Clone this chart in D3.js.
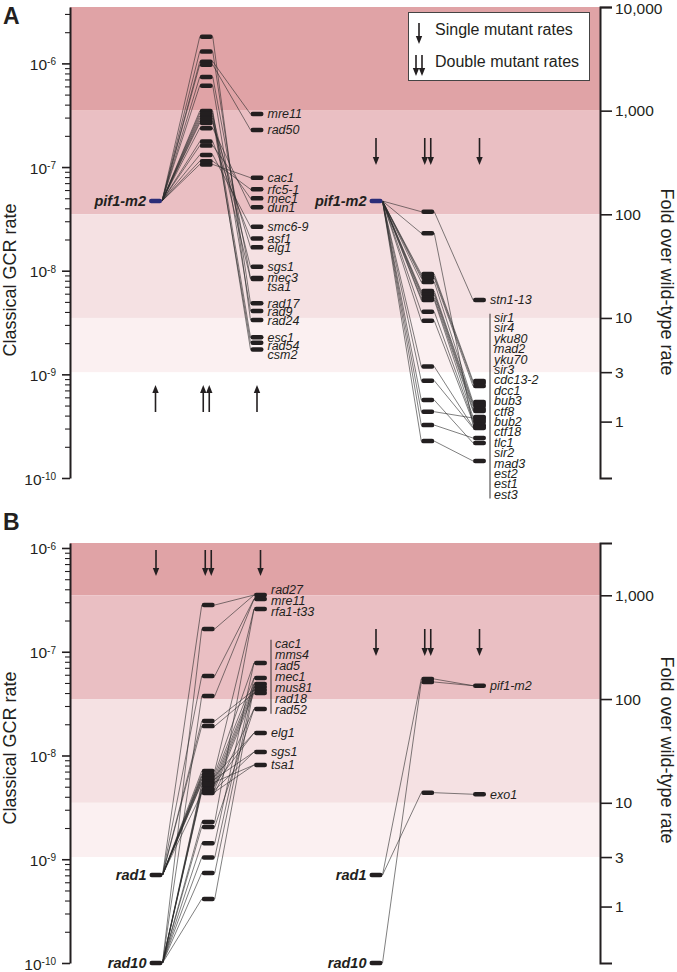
<!DOCTYPE html>
<html><head><meta charset="utf-8">
<script src="https://cdn.jsdelivr.net/npm/d3@7"></script>
<style>
body{margin:0;background:#fff;}
svg{display:block;font-family:"Liberation Sans",Arial,Helvetica,sans-serif;}
</style></head><body>
<svg id="chart" width="677" height="972"></svg>
<script>
// ================= DATA =================
const wildTypeRate = 3.5e-10;
const foldBands = [1000, 100, 10, 3];
const foldTicksA = [10000, 1000, 100, 10, 3, 1];
const foldTicksB = [1000, 100, 10, 3, 1];
const rateExponents = [-6, -7, -8, -9, -10];

// Panel A, left group (pif1-m2 x gene)
const aLeftParents = ["pif1-m2"];
const aLeftParentRates = [4.7e-8];
const aLeftGenes = ["mre11","rad50","cac1","rfc5-1","mec1","dun1","smc6-9","asf1","elg1","sgs1","mec3","tsa1","rad17","rad9","rad24","esc1","rad54","csm2"];
const aLeftSingle = [3.25e-7,2.28e-7,7.89e-8,6.10e-8,4.99e-8,4.09e-8,2.66e-8,2.05e-8,1.68e-8,1.09e-8,8.50e-9,8.32e-9,4.85e-9,4.08e-9,3.34e-9,2.28e-9,2.02e-9,1.74e-9];
const aLeftDouble = [1.04e-6,9.7e-7,1.06e-7,1.14e-7,1.61e-7,2.37e-7,1.31e-7,1.76e-7,2.66e-7,3.11e-7,7.4e-7,2.78e-7,1.30e-6,6.1e-7,1.81e-6,3.47e-7,2.94e-7,3.29e-7];

// Panel A, right group (pif1-m2 x gene)
const aRightParents = ["pif1-m2"];
const aRightParentRates = [4.7e-8];
const aRightGenes = ["stn1-13","sir1","sir4","yku80","mad2","yku70","sir3","cdc13-2","dcc1","bub3","ctf8","bub2","ctf18","tlc1","sir2","mad3","est2","est1","est3"];
const aRightBracket = ["sir1","sir4","yku80","mad2","yku70","sir3","cdc13-2","dcc1","bub3","ctf8","bub2","ctf18","tlc1","sir2","mad3","est2","est1","est3"];
const aRightSingle = [5.22e-9,8.63e-10,8.25e-10,7.72e-10,5.41e-10,5.18e-10,4.95e-10,4.63e-10,4.43e-10,3.88e-10,3.79e-10,3.63e-10,3.47e-10,3.24e-10,3.10e-10,3.04e-10,2.43e-10,2.18e-10,1.46e-10];
const aRightDouble = [3.71e-8,9.29e-9,8.89e-9,8.50e-9,7.78e-9,6.37e-9,6.09e-9,5.83e-9,5.45e-9,5.22e-9,4.36e-10,4.02e-9,3.29e-9,2.30e-8,1.19e-9,8.69e-10,3.24e-10,5.65e-10,2.27e-10];

// Panel B, left group (rad1 / rad10 x gene)
const bLeftParents = ["rad1","rad10"];
const bLeftParentRates = [7.05e-10, 1.0e-10];
const bLeftGenes = ["rad27","mre11","rfa1-t33","cac1","mms4","rad5","mec1","mus81","rad18","rad52","elg1","sgs1","tsa1"];
const bLeftBracket = ["cac1","mms4","rad5","mec1","mus81","rad18","rad52"];
const bLeftSingle = [3.52e-7,3.22e-7,2.58e-7,7.79e-8,5.58e-8,4.89e-8,4.57e-8,4.28e-8,4.00e-8,2.81e-8,1.65e-8,1.08e-8,8.10e-9];
const bLeftDoubleRad1 = [2.82e-7,5.84e-8,7.09e-9,6.63e-9,6.21e-9,5.81e-9,5.43e-9,2.15e-8,1.92e-8,4.35e-9,6.34e-9,5.94e-9,5.55e-9];
const bLeftDoubleRad10 = [1.66e-7,3.75e-8,2.29e-9,1.43e-9,1.04e-9,7.37e-10,4.14e-10,5.08e-9,4.75e-9,2.05e-9,5.31e-9,4.65e-9,4.45e-9];

// Panel B, right group (rad1 / rad10 x gene)
const bRightParents = ["rad1","rad10"];
const bRightParentRates = [7.05e-10, 1.0e-10];
const bRightGenes = ["pif1-m2","exo1"];
const bRightSingle = [4.71e-8, 4.23e-9];
const bRightDoubleRad1 = [5.46e-8, 4.38e-9];
const bRightDoubleRad10 = [5.11e-8, null];

// ================= DRAWING =================
const svg = d3.select("#chart");
const plotX0 = 70, plotX1 = 600;
const bandColors = ["#e0a3a6","#eabfc3","#f5e1e3","#fbf0f1"];
const ink = "#231f20";
const BW = 13, BH = 4.5;

function drawPanel(cfg) {
  const g = svg.append("g");
  const y = d3.scaleLog().domain(cfg.domain).range(cfg.range);
  const fold = d3.scaleLog().domain(cfg.domain.map(d => d / wildTypeRate)).range(cfg.range);
  const edges = [cfg.domain[0] / wildTypeRate, ...foldBands];
  g.selectAll("rect.band").data(foldBands).join("rect").attr("class","band")
    .attr("x", plotX0).attr("width", plotX1 - plotX0)
    .attr("y", (d,i) => fold(edges[i]))
    .attr("height", (d,i) => fold(edges[i+1]) - fold(edges[i]))
    .attr("fill", (d,i) => bandColors[i]);

  // left axis
  const majors = rateExponents.map(e => Math.pow(10, e));
  const minors = [];
  rateExponents.forEach(e => { for (let m = 2; m <= 9; m++) { const v = m * Math.pow(10, e); if (v < cfg.domain[0]) minors.push(v); } });
  const isMajor = d => Math.abs(Math.log10(d) - Math.round(Math.log10(d))) < 1e-6;
  const ax = g.append("g").attr("transform", `translate(${plotX0},0)`)
    .call(d3.axisLeft(y).tickValues([...majors, ...minors]).tickSizeOuter(0).tickSizeInner(5).tickFormat(() => ""));
  ax.select(".domain").attr("stroke", ink).attr("stroke-width", 2);
  ax.selectAll(".tick line").attr("stroke", ink).attr("stroke-width", 1.1)
    .filter(d => isMajor(d)).attr("x2", -8).attr("stroke-width", 1.6);
  ax.selectAll(".tick").filter(d => isMajor(d)).each(function(d) {
    const t = d3.select(this).append("text").attr("x", -14).attr("y", 6)
      .attr("text-anchor", "end").attr("fill", ink).attr("font-size", 15.5).attr("font-family", "Liberation Sans, Arial, sans-serif");
    t.append("tspan").text("10");
    t.append("tspan").attr("dy", -4.5).attr("font-size", 10).text(String(Math.round(Math.log10(d))));
  });

  // right axis
  const rx = g.append("g").attr("transform", `translate(${plotX1},0)`)
    .call(d3.axisRight(fold).tickValues(cfg.foldTicks).tickSizeOuter(0).tickSize(12).tickPadding(3).tickFormat(d3.format(",")));
  rx.select(".domain").attr("stroke", ink).attr("stroke-width", 2);
  rx.selectAll(".tick line").attr("stroke", ink).attr("stroke-width", 1.6);
  rx.selectAll(".tick text").attr("font-size", 15.5).attr("fill", ink).attr("font-family", "Liberation Sans, Arial, sans-serif")
    .attr("y", d => fold(d) < 12 ? 1.5 : 0);

  // titles
  g.append("text").attr("transform", `translate(16,${cfg.leftTitleY}) rotate(-90)`).attr("text-anchor","middle")
    .attr("font-size", 18).attr("fill", ink).text("Classical GCR rate");
  g.append("text").attr("transform", `translate(661,${cfg.rightTitleY}) rotate(90)`).attr("text-anchor","middle")
    .attr("font-size", 18).attr("fill", ink).text("Fold over wild-type rate");
  g.append("text").attr("x", 3).attr("y", cfg.letterY).attr("font-size", 23).attr("font-weight","bold")
    .attr("fill", ink).text(cfg.letter);
  return { g, y };
}

function dodge(items, spacing, mode) {
  items.sort((a,b) => a.y - b.y);
  items.forEach(d => d.ly = d.y);
  if (mode === "down") {
    for (let i = 1; i < items.length; i++) items[i].ly = Math.max(items[i].ly, items[i-1].ly + spacing);
  } else {
    for (let it = 0; it < 300; it++) for (let i = 1; i < items.length; i++) {
      const gap = items[i].ly - items[i-1].ly;
      if (gap < spacing) { const p = (spacing - gap) / 2; items[i].ly += p; items[i-1].ly -= p; }
    }
  }
  return items;
}

function arrow(g, x, y1, y2) {
  const dir = Math.sign(y2 - y1), hl = 8, hw = 3.2;
  g.append("line").attr("x1", x).attr("x2", x).attr("y1", y1).attr("y2", y2 - dir * hl * 0.7)
    .attr("stroke", ink).attr("stroke-width", 1.6);
  g.append("path").attr("d", `M${x-hw},${y2-dir*hl}L${x+hw},${y2-dir*hl}L${x},${y2}Z`).attr("fill", ink);
}

function drawGroup(P, cfg) {
  const { g, y } = P;
  const x = d3.scalePoint().domain(["parent","double","single"]).range(cfg.xRange);
  const gg = g.append("g");
  const links = [], dbl = [];
  cfg.parents.forEach((p, pi) => {
    cfg.genes.forEach((gene, i) => {
      const d = cfg.doubles[pi][i];
      if (d == null) return;
      dbl.push(d);
      links.push([x("parent") + BW/2, y(cfg.parentRates[pi]), x("double") - BW/2, y(d)]);
      links.push([x("double") + BW/2, y(d), x("single") - BW/2, y(cfg.singles[i])]);
    });
  });
  gg.selectAll("line.link").data(links).join("line").attr("class","link")
    .attr("x1", d => d[0]).attr("y1", d => d[1]).attr("x2", d => d[2]).attr("y2", d => d[3])
    .attr("stroke", "#2a2a2a").attr("stroke-width", 0.6);
  const bar = (sel, col, color) => sel.attr("x", x(col) - BW/2).attr("width", BW).attr("height", BH)
    .attr("y", d => y(d) - BH/2).attr("rx", 2.2).attr("fill", color);
  gg.selectAll("rect.d").data(dbl).join("rect").attr("class","d").call(bar, "double", ink);
  gg.selectAll("rect.s").data(cfg.singles).join("rect").attr("class","s").call(bar, "single", ink);
  gg.selectAll("rect.p").data(cfg.parentRates).join("rect").attr("class","p").call(bar, "parent", cfg.parentColor);
  // parent labels
  gg.selectAll("text.p").data(cfg.parents).join("text").attr("class","p")
    .attr("x", x("parent") - BW/2 - 3).attr("y", (d,i) => y(cfg.parentRates[i])).attr("dy","0.35em")
    .attr("text-anchor","end").attr("font-size", 14.5).attr("font-weight","bold").attr("font-style","italic")
    .attr("fill", ink).text(d => d);
  // free labels
  const bracketSet = new Set(cfg.bracket || []);
  const free = dodge(cfg.genes.map((n,i) => ({ n, y: y(cfg.singles[i]) })).filter(d => !bracketSet.has(d.n)), cfg.spacing, cfg.mode);
  const lx = x("single") + BW/2 + 4;
  gg.selectAll("text.f").data(free).join("text").attr("class","f")
    .attr("x", lx).attr("y", d => d.ly).attr("dy","0.35em").attr("font-size", 12.5).attr("font-style","italic")
    .attr("fill", ink).text(d => d.n);
  if (cfg.bracket) {
    const ys = cfg.bracket.map(n => y(cfg.singles[cfg.genes.indexOf(n)]));
    const c = d3.mean(ys) - 9.5, n = cfg.bracket.length, s = cfg.bracketSpacing;
    const y0 = c - (n - 1) * s / 2;
    gg.append("line").attr("x1", lx).attr("x2", lx).attr("y1", y0 - 4).attr("y2", y0 + (n-1)*s + 4)
      .attr("stroke", ink).attr("stroke-width", 0.9);
    gg.selectAll("text.b").data(cfg.bracket).join("text").attr("class","b")
      .attr("x", lx + 4).attr("y", (d,i) => y0 + i*s).attr("dy","0.35em").attr("font-size", 12.5)
      .attr("font-style","italic").attr("fill", ink).text(d => d);
  }
  // arrows
  const [a1, a2] = cfg.arrowY;
  arrow(gg, x("parent"), a1, a2);
  arrow(gg, x("double") - 3, a1, a2);
  arrow(gg, x("double") + 3, a1, a2);
  arrow(gg, x("single"), a1, a2);
}

// Panel A
const PA = drawPanel({ domain: [3.5e-6, 1e-10], range: [7, 478], foldTicks: foldTicksA, letter: "A", letterY: 24,
  leftTitleY: 280, rightTitleY: 282 });
drawGroup(PA, { xRange: [155.5, 257], parents: aLeftParents, parentRates: aLeftParentRates, parentColor: "#2b2d78",
  genes: aLeftGenes, singles: aLeftSingle, doubles: [aLeftDouble], spacing: 8.8, mode: "down", arrowY: [412, 385] });
drawGroup(PA, { xRange: [376, 479.5], parents: aRightParents, parentRates: aRightParentRates, parentColor: "#2b2d78",
  genes: aRightGenes, singles: aRightSingle, doubles: [aRightDouble], bracket: aRightBracket, bracketSpacing: 10.4,
  spacing: 10, mode: "center", arrowY: [138, 165] });

// Panel B
const PB = drawPanel({ domain: [1.117e-6, 1e-10], range: [543, 963], foldTicks: foldTicksB, letter: "B", letterY: 530,
  leftTitleY: 748, rightTitleY: 750 });
drawGroup(PB, { xRange: [156, 260.5], parents: bLeftParents, parentRates: bLeftParentRates, parentColor: ink,
  genes: bLeftGenes, singles: bLeftSingle, doubles: [bLeftDoubleRad1, bLeftDoubleRad10], bracket: bLeftBracket,
  bracketSpacing: 11, spacing: 11, mode: "center", arrowY: [550, 576] });
drawGroup(PB, { xRange: [376, 479.5], parents: bRightParents, parentRates: bRightParentRates, parentColor: ink,
  genes: bRightGenes, singles: bRightSingle, doubles: [bRightDoubleRad1, bRightDoubleRad10],
  spacing: 11, mode: "center", arrowY: [629, 656] });

// Legend
const lg = svg.append("g");
lg.append("rect").attr("x", 408.5).attr("y", 12.5).attr("width", 181).attr("height", 68)
  .attr("fill", "#fff").attr("stroke", "#444").attr("stroke-width", 1);
arrow(lg, 419, 23, 44);
arrow(lg, 416, 55, 76);
arrow(lg, 422, 55, 76);
lg.append("text").attr("x", 435).attr("y", 35).attr("font-size", 16).attr("fill", ink).text("Single mutant rates");
lg.append("text").attr("x", 435).attr("y", 67).attr("font-size", 16).attr("fill", ink).text("Double mutant rates");
</script>
</body></html>
